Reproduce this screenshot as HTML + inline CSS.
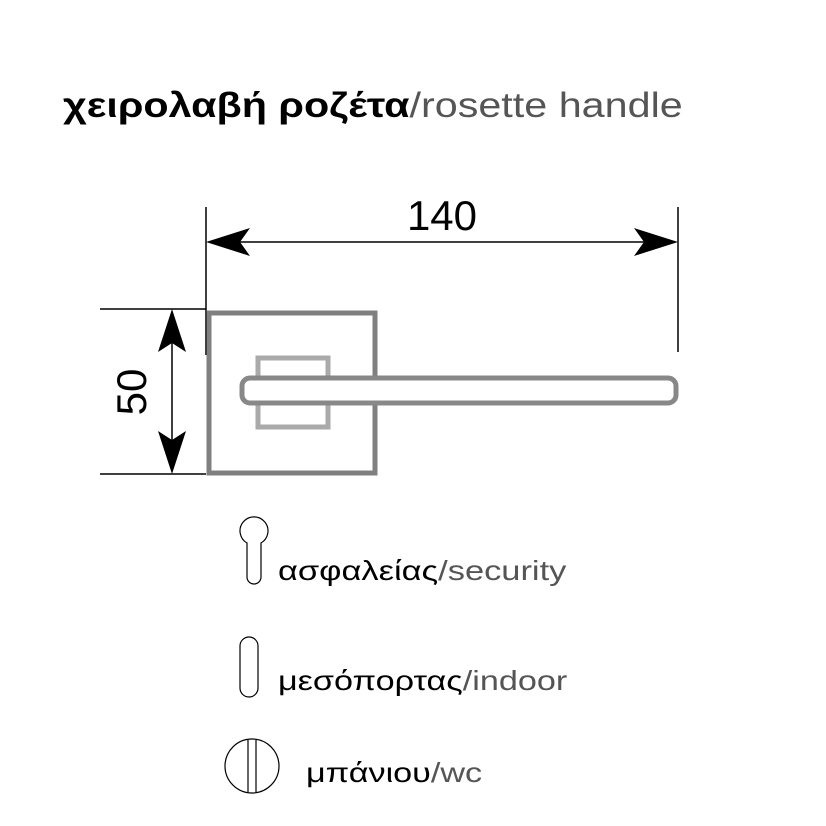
<!DOCTYPE html>
<html><head><meta charset="utf-8"><style>
body{margin:0;background:#fff;width:826px;height:826px;overflow:hidden;position:relative;font-family:"Liberation Sans","DejaVu Sans",sans-serif}
.t{position:absolute;white-space:nowrap;color:#000;transform-origin:0 0}
.g{color:#555}
</style></head><body>
<div class="t" style="left:63px;top:86px;font-size:35px;transform:scaleX(1.18)"><b>χειρολαβή ροζέτα</b><span class="g">/rosette handle</span></div>
<svg width="826" height="826" style="position:absolute;left:0;top:0">
<g stroke="#000" stroke-width="1.5">
<line x1="206" y1="207" x2="206" y2="355"/>
<line x1="678" y1="207" x2="678" y2="352"/>
<line x1="225" y1="242" x2="660" y2="242"/>
<line x1="100" y1="309" x2="206" y2="309"/>
<line x1="100" y1="474" x2="206" y2="474"/>
<line x1="172" y1="330" x2="172" y2="455"/>
</g>
<polygon points="206,242 250,228 240,242 250,256" fill="#000"/>
<polygon points="678,242 634,228 644,242 634,256" fill="#000"/>
<polygon points="172,309 158,352 172,343 186,352" fill="#000"/>
<polygon points="172,474 158,431 172,440 186,431" fill="#000"/>
<text x="442" y="230" font-size="42" text-anchor="middle" font-family="Liberation Sans, sans-serif">140</text>
<text transform="translate(146,392) rotate(-90)" font-size="42" text-anchor="middle" font-family="Liberation Sans, sans-serif">50</text>
<rect x="209" y="313" width="166" height="160" fill="none" stroke="#808080" stroke-width="5"/>
<rect x="258" y="358" width="70" height="69" fill="none" stroke="#aaa" stroke-width="5"/>
<rect x="242" y="378" width="434" height="25" rx="8" fill="#fff" stroke="#888" stroke-width="5"/>
<g fill="none" stroke="#000" stroke-width="1.2">
<path d="M247,543 A14,14 0 1 1 261,543 L261,577 A7,7 0 0 1 247,577 Z"/>
<rect x="240" y="637" width="18" height="60" rx="9"/>
<circle cx="252" cy="766" r="27"/>
<line x1="248" y1="740" x2="248" y2="792"/>
<line x1="256" y1="740" x2="256" y2="792"/>
</g>
</svg>
<div class="t" style="left:278px;top:555px;font-size:28px;transform:scaleX(1.23)">ασφαλείας<span class="g">/security</span></div>
<div class="t" style="left:278px;top:665px;font-size:28px;transform:scaleX(1.22)">μεσόπορτας<span class="g">/indoor</span></div>
<div class="t" style="left:306px;top:757px;font-size:28px;transform:scaleX(1.22)">μπάνιου<span class="g">/wc</span></div>
</body></html>
